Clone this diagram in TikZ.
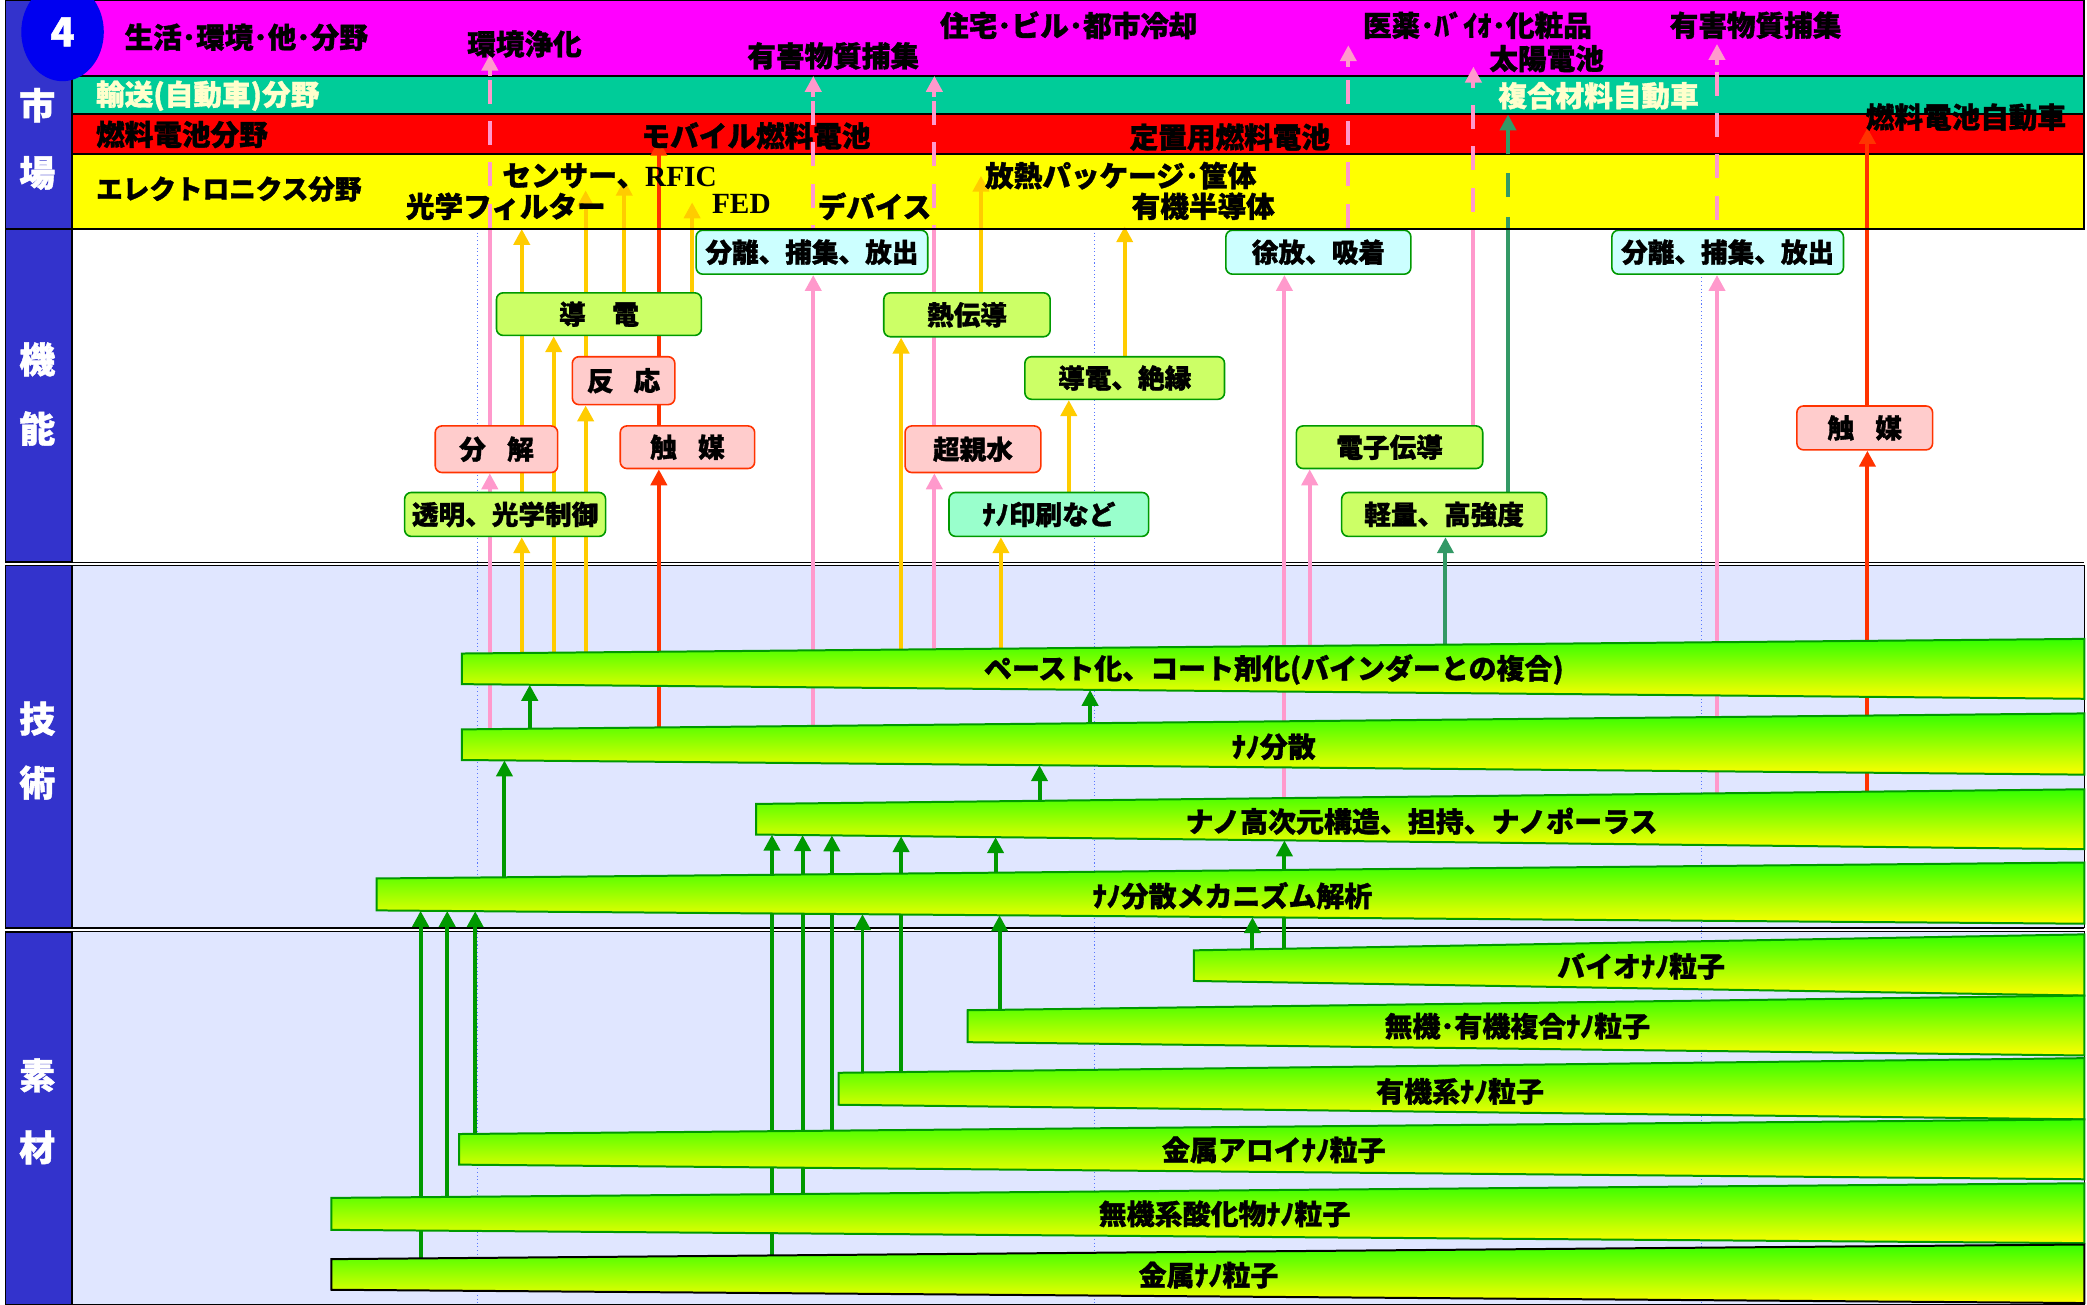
\documentclass[tikz,border=0pt]{standalone}
\usepackage{fontspec}
\newfontfamily\jp{Noto Sans CJK JP}[BoldFeatures={FakeBold=1.2}]
\newfontfamily\tms{Liberation Serif}
\usetikzlibrary{arrows.meta,shapes.geometric}
\pgfdeclarelayer{bg}
\pgfdeclarelayer{arrows}
\pgfdeclarelayer{bars}
\pgfsetlayers{bg,arrows,bars,main}
\definecolor{mag}{RGB}{255,0,255}
\definecolor{tealb}{RGB}{0,204,153}
\definecolor{redb}{RGB}{255,0,0}
\definecolor{yelb}{RGB}{255,255,0}
\definecolor{lav}{RGB}{224,230,255}
\definecolor{blu}{RGB}{51,51,204}
\definecolor{circb}{RGB}{0,0,240}
\definecolor{pk}{RGB}{255,153,204}
\definecolor{rd}{RGB}{255,51,0}
\definecolor{og}{RGB}{255,204,0}
\definecolor{gr}{RGB}{0,153,0}
\definecolor{dg}{RGB}{51,153,102}
\definecolor{ltyel}{RGB}{255,255,204}
\definecolor{boxg}{RGB}{204,255,102}
\definecolor{boxp}{RGB}{255,204,204}
\definecolor{boxc}{RGB}{204,255,255}
\definecolor{boxm}{RGB}{153,255,204}
\definecolor{barT}{RGB}{51,255,0}
\definecolor{barB}{RGB}{255,255,0}
\definecolor{dotb}{RGB}{90,120,255}
\tikzset{
  jpf/.style={font=\jp\bfseries\fontsize{20}{20}\selectfont},
  lbl/.style={font=\jp\bfseries\fontsize{21.5}{21.5}\selectfont, inner sep=0pt},
  blbl/.style={font=\jp\bfseries\fontsize{21}{21}\selectfont, inner sep=0pt},
  side/.style={font=\jp\bfseries\fontsize{27}{27}\selectfont, text=white, inner sep=0pt},
  fbox/.style={jpf, draw=gr, line width=1.2pt, rounded corners=5pt, minimum height=33pt, inner sep=0pt},
  gbox/.style={fbox, fill=boxg},
  pbox/.style={fbox, fill=boxp, draw=rd},
  cbox/.style={fbox, fill=boxc},
  mbox/.style={fbox, fill=boxm},
  ar/.style={line width=3pt, -{Triangle[width=12pt,length=12pt]}},
  lw/.style={line width=3pt},
  pdash/.style={line width=3pt, dash pattern=on 18pt off 13pt},
  band/.style={draw=black, line width=1.5pt},
  sect/.style={draw=black, line width=0.8pt},
  dotl/.style={dotb, line width=0.8pt, dotted},
}
\newcommand\techbar[6]{%
  \shade[top color=barT, bottom color=barB] (#1,#2) -- (1566,#4) -- (1566,#5) -- (#1,#3) -- cycle;
  \draw[#6, line width=1.5pt, line join=miter] (#1,#2) -- (1566,#4) -- (1566,#5) -- (#1,#3) -- cycle;
}
\begin{document}
\begin{tikzpicture}[x=1pt,y=-1pt]
\useasboundingbox (0,0) rectangle (1568,980);
\begin{pgfonlayer}{bg}
\fill[white] (0,0) rectangle (1568,980);
\fill[mag, band] (54,0) rectangle (1566,57);
\fill[tealb, band] (54,57) rectangle (1566,86);
\fill[redb, band] (54,86) rectangle (1566,116);
\fill[yelb, band] (54,116) rectangle (1566,172);
\fill[lav, sect] (54,425) rectangle (1566,697);
\fill[lav, sect] (54,700) rectangle (1566,980);
\draw[line width=0.8pt, double=white, double distance=1.5pt] (4,423.5) -- (1566,423.5);
\draw[line width=0.8pt, double=white, double distance=1.5pt] (4,698.5) -- (1566,698.5);
\draw[dotl] (359,172) -- (359,980);
\draw[dotl] (822,172) -- (822,980);
\draw[dotl] (1278,172) -- (1278,980);
\end{pgfonlayer}

% ---------- function boxes
\node[cbox, minimum width=174pt] (sep1) at (610,189.5) {分離、捕集、放出};
\node[gbox, minimum width=154pt, minimum height=32pt] (dou) at (450,236) {導　電};
\node[pbox, minimum width=77pt, minimum height=36pt] (hannou) at (468.5,286) {反\hspace{15pt}応};
\node[gbox, minimum width=125pt] (netsu) at (726.5,236.5) {熱伝導};
\node[gbox, minimum width=150pt, minimum height=32pt] (zetsu) at (845,284) {導電、絶縁};
\node[pbox, minimum width=92pt, minimum height=35pt] (bunkai) at (373,337.5) {分\hspace{16pt}解};
\node[pbox, minimum width=101pt, minimum height=32pt] (shoku1) at (516.5,336) {触\hspace{16pt}媒};
\node[pbox, minimum width=102pt, minimum height=35pt] (chou) at (731,337.5) {超親水};
\node[gbox, minimum width=151pt] (toumei) at (379.5,386.5) {透明、光学制御};
\node[mbox, minimum width=150pt] (nano) at (788,386.5) {ﾅﾉ印刷など};
\node[cbox, minimum width=139pt] (jyo) at (990.5,189.5) {徐放、吸着};
\node[gbox, minimum width=140pt, minimum height=32pt] (denshi) at (1044,336) {電子伝導};
\node[gbox, minimum width=154pt] (kei) at (1085,386.5) {軽量、高強度};
\node[cbox, minimum width=174pt] (sep2) at (1298,189.5) {分離、捕集、放出};
\node[pbox, minimum width=102pt] (shoku2) at (1401,321.5) {触\hspace{16pt}媒};

\begin{pgfonlayer}{arrows}
% orange
\draw[ar, og] (392,495) -- (392,0 |- toumei.south);
\draw[ar, og] (392,0 |- toumei.north) -- (392,172);
\draw[ar, og] (416,495) -- (416,0 |- dou.south);
\draw[ar, og] (440,495) -- (440,0 |- hannou.south);
\draw[ar, og] (440,0 |- hannou.north) -- (440,143);
\draw[ar, og] (469,0 |- dou.north) -- (469,135);
\draw[ar, og] (520,0 |- dou.north) -- (520,152);
\draw[ar, og] (677,492) -- (677,0 |- netsu.south);
\draw[ar, og] (737,0 |- netsu.north) -- (737,132);
\draw[ar, og] (752,492) -- (752,0 |- nano.south);
\draw[ar, og] (803,0 |- nano.north) -- (803,0 |- zetsu.south);
\draw[ar, og] (845,0 |- zetsu.north) -- (845,170);
% red
\draw[ar, rd] (495,551) -- (495,0 |- shoku1.south);
\draw[ar, rd] (495,0 |- shoku1.north) -- (495,105);
\draw[ar, rd] (1403,599) -- (1403,0 |- shoku2.south);
\draw[ar, rd] (1403,0 |- shoku2.north) -- (1403,96);
% pink
\draw[ar, pk] (368,552) -- (368,0 |- bunkai.south);
\draw[lw, pk] (368,0 |- bunkai.north) -- (368,172);
\draw[pdash, pk] (368,60) -- (368,172);
\draw[ar, pk] (368,57) -- (368,41);
\draw[ar, pk] (611,550) -- (611,0 |- sep1.south);
\draw[pdash, pk] (611,76) -- (611,0 |- sep1.north);
\draw[ar, pk] (611,73) -- (611,57);
\draw[ar, pk] (702,492) -- (702,0 |- chou.south);
\draw[lw, pk] (702,0 |- chou.north) -- (702,172);
\draw[pdash, pk] (702,76) -- (702,172);
\draw[ar, pk] (702,73) -- (702,57);
\draw[ar, pk] (965,604) -- (965,0 |- jyo.south);
\draw[pdash, pk] (1013,60) -- (1013,0 |- jyo.north);
\draw[ar, pk] (1013,50) -- (1013,34);
\draw[ar, pk] (984,490) -- (984,0 |- denshi.south);
\draw[lw, pk] (1107,0 |- denshi.north) -- (1107,172);
\draw[pdash, pk] (1107,79) -- (1107,172);
\draw[ar, pk] (1107,66) -- (1107,50);
\draw[ar, pk] (1290,600) -- (1290,0 |- sep2.south);
\draw[pdash, pk] (1290,54) -- (1290,0 |- sep2.north);
\draw[ar, pk] (1290,49) -- (1290,33);
% dark green
\draw[ar, dg] (1086,489) -- (1086,0 |- kei.south);
\draw[lw, dg] (1133,0 |- kei.north) -- (1133,172);
\draw[dg, line width=3pt, dash pattern=on 18pt off 15pt] (1133,130) -- (1133,172);
\draw[ar, dg] (1133,116) -- (1133,86);
% green
\draw[ar, gr] (398,552) -- (398,514.5);
\draw[ar, gr] (819,548) -- (819,518.3);
\draw[ar, gr] (379,664) -- (379,571.3);
\draw[ar, gr] (781,606) -- (781,574.9);
\draw[ar, gr] (580,948) -- (580,627.1);
\draw[ar, gr] (603,902) -- (603,627.4);
\draw[ar, gr] (625,854) -- (625,627.6);
\draw[ar, gr] (677,810) -- (677,628.2);
\draw[ar, gr] (748,660) -- (748,629);
\draw[ar, gr] (316,950) -- (316,684.3);
\draw[ar, gr] (336,904) -- (336,684.4);
\draw[ar, gr] (357,856) -- (357,684.6);
\draw[ar, gr] (648,810) -- (648,686.8);
\draw[ar, gr] (751,763) -- (751,687.7);
\draw[ar, gr] (941,718) -- (941,689.1);
\draw[ar, gr] (965,717) -- (965,631.4);
\end{pgfonlayer}

\begin{pgfonlayer}{bars}
\techbar{347}{491}{514}{480}{525}{gr}
\techbar{347}{548}{571}{536}{582}{gr}
\techbar{568}{604}{627}{593}{638}{gr}
\techbar{283}{660}{684}{648}{694}{gr}
\techbar{897}{714}{737}{702}{748}{gr}
\techbar{727}{759}{783}{748}{793}{gr}
\techbar{630}{806}{830}{795}{841}{gr}
\techbar{345}{852}{875}{841}{886}{gr}
\techbar{249}{900}{924}{889}{934}{gr}
\techbar{249}{946}{969}{935}{979}{black}
\end{pgfonlayer}
\node[blbl] (b1t) at (957,503) {ペースト化、コート剤化(バインダーとの複合)};
\node[blbl] (b2t) at (957,561) {ﾅﾉ分散};
\node[blbl] (b3t) at (1068,617) {ナノ高次元構造、担持、ナノポーラス};
\node[blbl] (b4t) at (926,673) {ﾅﾉ分散メカニズム解析};
\node[blbl] (biot) at (1233,726) {バイオﾅﾉ粒子};
\node[blbl] (mkt) at (1140,771) {無機･有機複合ﾅﾉ粒子};
\node[blbl] (ykt) at (1097,820) {有機系ﾅﾉ粒子};
\node[blbl] (kat) at (957,864) {金属アロイﾅﾉ粒子};
\node[blbl] (mst) at (920,912) {無機系酸化物ﾅﾉ粒子};
\node[blbl] (knt) at (908,958) {金属ﾅﾉ粒子};

% ---------- market labels
\node[lbl] (m1) at (185,28) {生活･環境･他･分野};
\node[lbl] (m2) at (394,33) {環境浄化};
\node[lbl] (m3) at (626,42) {有害物質捕集};
\node[lbl] (m4) at (803,19) {住宅･ビル･都市冷却};
\node[lbl] (m5) at (1110,19) {医薬･ﾊﾞｲｵ･化粧品};
\node[lbl] (m6) at (1162,44) {太陽電池};
\node[lbl] (m7) at (1319,19) {有害物質捕集};
\node[lbl, text=ltyel, anchor=west] (m8) at (72,72) {輸送(自動車)分野};
\node[lbl, text=ltyel] (m9) at (1201,72) {複合材料自動車};
\node[lbl, anchor=west] (m10) at (72,101) {燃料電池分野};
\node[lbl] (m11) at (568,102) {モバイル燃料電池};
\node[lbl] (m12) at (924,103) {定置用燃料電池};
\node[lbl] (m13) at (1477,88) {燃料電池自動車};
\node[lbl, anchor=west, font=\jp\bfseries\fontsize{20}{20}\selectfont] (m14) at (72,142) {エレクトロニクス分野};
\node[lbl] (m15) at (458,132) {センサー、{\tms\bfseries\fontsize{22}{22}\selectfont RFIC}};
\node[lbl] (m16) at (380,155) {光学フィルター};
\node[lbl] (m17) at (557,153) {\tms\bfseries\fontsize{22}{22}\selectfont FED};
\node[lbl] (m18) at (657,155) {デバイス};
\node[lbl] (m19) at (842,132) {放熱パッケージ･筐体};
\node[lbl] (m20) at (904,155) {有機半導体};

% ---------- left column
\draw[fill=blu, line width=1.2pt] (4,0) rectangle (54,172);
\draw[fill=blu, line width=1.2pt] (4,172) rectangle (54,422);
\draw[fill=blu, line width=1.2pt] (4,425) rectangle (54,697);
\draw[fill=blu, line width=1.2pt] (4,700) rectangle (54,980);
\draw[line width=1.5pt] (54,172) -- (1566,172);
\node[ellipse, fill=circb, minimum width=62pt, minimum height=74pt, inner sep=0pt, text=white, font=\jp\bfseries\fontsize{30}{30}\selectfont] (num) at (47,24) {4};
\node[side] (s1) at (28,79) {市};
\node[side] (s2) at (28,130) {場};
\node[side] (s3) at (28,270) {機};
\node[side] (s4) at (28,322) {能};
\node[side] (s5) at (28,540) {技};
\node[side] (s6) at (28,588) {術};
\node[side] (s7) at (28,808) {素};
\node[side] (s8) at (28,862) {材};
\end{tikzpicture}
\end{document}
